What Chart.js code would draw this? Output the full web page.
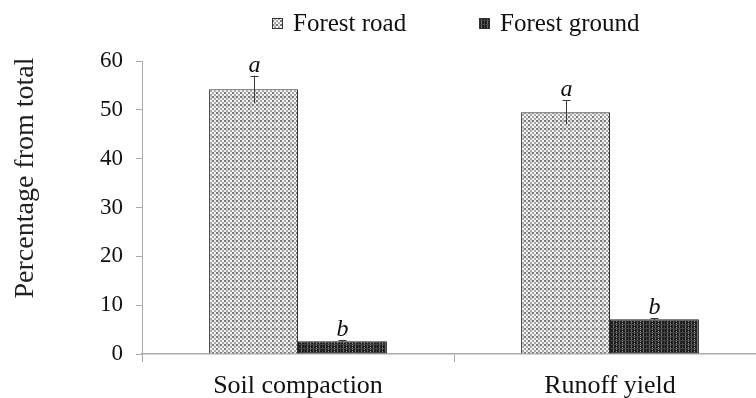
<!DOCTYPE html>
<html>
<head>
<meta charset="utf-8">
<script src="https://cdn.jsdelivr.net/npm/chart.js@4"></script>
<style>
  html, body { margin: 0; padding: 0; background: #fff; overflow: hidden; width: 756px; height: 398px; }
  canvas { display: block; }
</style>
</head>
<body>
<canvas id="c" width="770" height="398"></canvas>
<script>
// ---- data ----
const categories = ['Soil compaction', 'Runoff yield'];
const seriesNames = ['Forest road', 'Forest ground'];
const roadValues = [54.2, 49.5];
const roadErrors = [2.8, 2.5];
const groundValues = [2.6, 7.1];
const groundErrors = [0.2, 0.2];
const roadLetters = ['a', 'a'];
const groundLetters = ['b', 'b'];
const yTickValues = [0, 10, 20, 30, 40, 50, 60];
const yTitle = 'Percentage from total';

const SERIF = '"Liberation Serif", "Times New Roman", serif';

// ---- patterns ----
function makeRoadPattern() {
  const s = 16;
  const cv = document.createElement('canvas');
  cv.width = s; cv.height = s;
  const g = cv.getContext('2d');
  g.fillStyle = '#f2f2f2';
  g.fillRect(0, 0, s, s);
  for (let y = 0; y < s; y += 2) {
    for (let x = 0; x < s; x += 2) {
      const cx = x / 2, cy = y / 2;
      if ((cx + cy) % 2 === 0) {
        const band = (cy % 4 === 0) || (cx % 4 === 0);
        g.fillStyle = band ? '#7a7a7a' : '#a8a8a8';
        g.fillRect(x, y, 2, 2);
      } else if ((cy % 4 === 0) && (cx % 4 === 1)) {
        g.fillStyle = '#d0d0d0';
        g.fillRect(x, y, 2, 2);
      }
    }
  }
  return g.createPattern(cv, 'repeat');
}
function makeGroundPattern() {
  const w = 18, h = 4;
  const cv = document.createElement('canvas');
  cv.width = w; cv.height = h;
  const g = cv.getContext('2d');
  g.fillStyle = '#1c1c1c';
  g.fillRect(0, 0, w, h);
  const cols = [[1, '#6a6a6a'], [4, '#8a8a8a'], [7, '#5a5a5a'], [10, '#9a9a9a'], [13, '#6a6a6a'], [16, '#4a4a4a']];
  cols.forEach(([x, c]) => {
    g.fillStyle = c;
    g.fillRect(x, 0, 1, h);
  });
  g.fillStyle = '#444';
  g.fillRect(0, 0, w, 1);
  g.fillStyle = '#2a2a2a';
  for (let x = 0; x < w; x += 2) g.fillRect(x, 2, 1, 1);
  return g.createPattern(cv, 'repeat');
}
const roadPattern = makeRoadPattern();
const groundPattern = makeGroundPattern();

const errorsByDataset = [roadErrors, groundErrors];
const lettersByDataset = [roadLetters, groundLetters];

// ---- error bars + letters plugin ----
const errorBarPlugin = {
  id: 'errorBars',
  afterDatasetsDraw(chart) {
    const ctx = chart.ctx;
    const yScale = chart.scales.y;
    chart.data.datasets.forEach((ds, di) => {
      const meta = chart.getDatasetMeta(di);
      meta.data.forEach((bar, i) => {
        const v = ds.data[i];
        const e = errorsByDataset[di][i];
        const yTop = yScale.getPixelForValue(v + e);
        const yBot = yScale.getPixelForValue(v - e);
        const x = Math.round(bar.x) + 0.5;
        ctx.save();
        ctx.strokeStyle = '#3a3a3a';
        ctx.lineWidth = 1;
        ctx.beginPath();
        ctx.moveTo(x, yTop);
        ctx.lineTo(x, yBot);
        ctx.moveTo(x - 4, Math.round(yTop) + 0.5);
        ctx.lineTo(x + 4, Math.round(yTop) + 0.5);
        ctx.stroke();
        ctx.fillStyle = '#111';
        ctx.font = 'italic 24px ' + SERIF;
        ctx.textAlign = 'center';
        ctx.textBaseline = 'alphabetic';
        ctx.fillText(lettersByDataset[di][i], x, yTop - 4);
        ctx.restore();
      });
    });
  }
};

// ---- custom legend + y title plugin ----
const legendPlugin = {
  id: 'customLegend',
  afterDraw(chart) {
    const ctx = chart.ctx;
    const items = [
      { x: 272, label: seriesNames[0], fill: roadPattern },
      { x: 479, label: seriesNames[1], fill: groundPattern }
    ];
    ctx.save();
    items.forEach(it => {
      ctx.fillStyle = it.fill;
      ctx.fillRect(it.x, 18, 11, 11);
      ctx.strokeStyle = '#333';
      ctx.lineWidth = 1;
      ctx.strokeRect(it.x + 0.5, 18.5, 10, 10);
      ctx.fillStyle = '#111';
      ctx.font = '25px ' + SERIF;
      ctx.textAlign = 'left';
      ctx.textBaseline = 'middle';
      ctx.fillText(it.label, it.x + 21, 24);
    });
    // y axis title
    ctx.translate(26, 178);
    ctx.rotate(-Math.PI / 2);
    ctx.fillStyle = '#222';
    ctx.font = '28px ' + SERIF;
    ctx.textAlign = 'center';
    ctx.textBaseline = 'middle';
    ctx.fillText(yTitle, 0, 0);
    ctx.restore();
  }
};

new Chart(document.getElementById('c'), {
  type: 'bar',
  data: {
    labels: categories,
    datasets: [
      { label: seriesNames[0], data: roadValues, backgroundColor: roadPattern, borderColor: '#333', borderWidth: 1 },
      { label: seriesNames[1], data: groundValues, backgroundColor: groundPattern, borderColor: '#222', borderWidth: 1 }
    ]
  },
  options: {
    responsive: false,
    animation: false,
    devicePixelRatio: 1,
    categoryPercentage: 0.57,
    barPercentage: 1.0,
    layout: { padding: { top: 61, right: 4, left: 0, bottom: 0 } },
    plugins: { legend: { display: false }, tooltip: { enabled: false } },
    scales: {
      x: {
        grid: { display: true, drawOnChartArea: false, offset: true, color: '#aaa', tickLength: 8 },
        border: { display: true, color: '#aaa', width: 1.5 },
        ticks: { color: '#111', font: { family: SERIF, size: 26 }, padding: 9, maxRotation: 0 },
        afterFit(scale) { scale.height = 44; }
      },
      y: {
        min: 0, max: 60,
        afterBuildTicks(scale) { scale.ticks = yTickValues.map(v => ({ value: v })); },
        grid: { display: true, drawOnChartArea: false, color: '#aaa', tickLength: 6 },
        border: { display: true, color: '#aaa', width: 1 },
        ticks: { color: '#111', font: { family: SERIF, size: 23 }, padding: 13 },
        title: { display: false },
        afterFit(scale) { scale.width = 142; }
      }
    }
  },
  plugins: [errorBarPlugin, legendPlugin]
});
</script>
</body>
</html>
